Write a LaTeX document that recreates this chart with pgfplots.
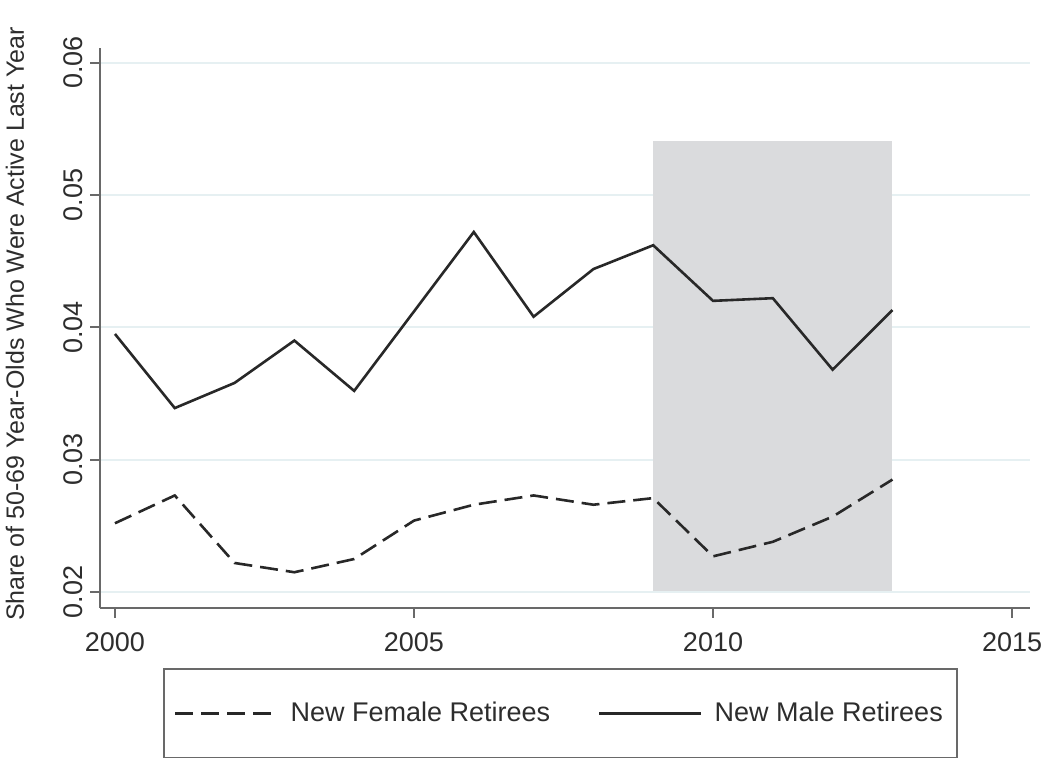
\documentclass[border=0pt]{standalone}
\usepackage{fontspec}
\setmainfont{Liberation Sans}
\usepackage{pgfplots}
\pgfplotsset{compat=1.18}
\definecolor{linec}{RGB}{40,40,40}
\definecolor{gridc}{RGB}{230,240,242}
\definecolor{shadec}{RGB}{218,219,221}
\definecolor{axc}{RGB}{105,105,105}
\definecolor{txt}{RGB}{45,45,45}
\begin{document}
\begin{tikzpicture}
\useasboundingbox (0,0) rectangle (523pt,379pt);
\begin{axis}[
  at={(50pt,75pt)}, anchor=south west,
  scale only axis, width=465pt, height=280pt,
  xmin=1999.75, xmax=2015.3, ymin=0.0188, ymax=0.0611,
  axis lines=left, axis line style={-, axc, line width=1pt},
  xtick={2000,2005,2010,2015}, ytick={0.02,0.03,0.04,0.05,0.06},
  tick style={axc, line width=1pt}, tick align=outside, major tick length=5pt,
  ymajorgrids, grid style={gridc, line width=1pt},
  scaled y ticks=false,
  font=\fontsize{13.5pt}{16pt}\selectfont,
  /pgf/number format/assume math mode=true,
  xticklabel style={/pgf/number format/1000 sep={}, text=txt, yshift=-4pt},
  yticklabel style={rotate=90, anchor=south, text=txt, /pgf/number format/.cd, fixed, fixed zerofill, precision=2},
  ylabel={Share of 50-69 Year-Olds Who Were Active Last Year},
  ylabel style={at={(axis description cs:-0.0914,-0.0357)}, anchor=west, text=txt, font=\fontsize{12.5pt}{15pt}\selectfont},
  legend columns=2,
  legend image code/.code={\draw[#1] (0pt,0pt) -- (51pt,0pt);},
  legend style={at={(axis description cs:0.0677,-0.1071)}, anchor=north west,
    draw=axc, line width=1pt, text=txt, inner xsep=5pt, inner ysep=14.5pt,
    font=\fontsize{13.5pt}{16pt}\selectfont,
    /tikz/every odd column/.append style={column sep=4pt},
    /tikz/every even column/.append style={column sep=22pt}},
]
\addplot[fill=shadec, draw=none, forget plot] coordinates {(2009,0.0201) (2013,0.0201) (2013,0.0541) (2009,0.0541)} -- cycle;
\addplot[linec, line width=1.3pt, dash pattern=on 9pt off 4pt] coordinates {
(2000,0.0252) (2001,0.0273) (2002,0.0222) (2003,0.0215) (2004,0.0225) (2005,0.0254) (2006,0.0266)
(2007,0.0273) (2008,0.0266) (2009,0.0271) (2010,0.0227) (2011,0.0238) (2012,0.0257) (2013,0.0285)};
\addlegendentry{New Female Retirees}
\addplot[linec, line width=1.3pt] coordinates {
(2000,0.0395) (2001,0.0339) (2002,0.0358) (2003,0.0390) (2004,0.0352) (2005,0.0412) (2006,0.0472)
(2007,0.0408) (2008,0.0444) (2009,0.0462) (2010,0.0420) (2011,0.0422) (2012,0.0368) (2013,0.0413)};
\addlegendentry{New Male Retirees}
\end{axis}
\end{tikzpicture}
\end{document}
